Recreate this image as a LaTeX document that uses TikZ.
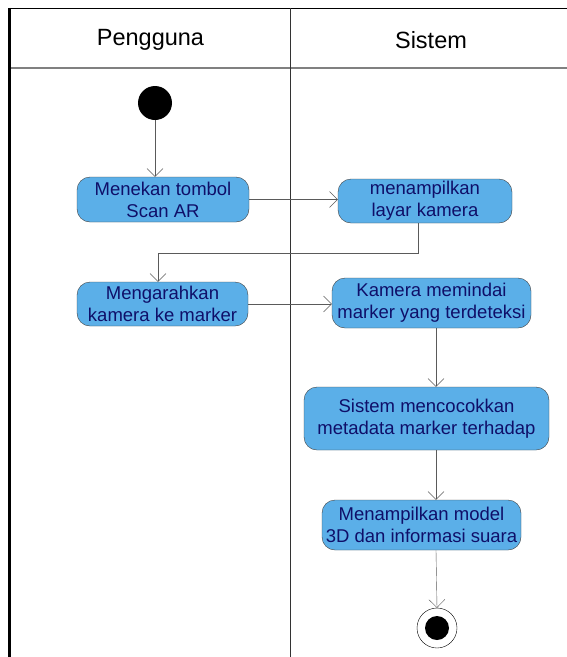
\documentclass[tikz,border=0pt]{standalone}
\usepackage{fontspec}
\setmainfont{Liberation Sans}
\usepackage{tikz}
\usetikzlibrary{arrows.meta, positioning, calc}
\definecolor{ActBlue}{RGB}{91,175,232}
\definecolor{ActText}{RGB}{15,15,105}
\definecolor{FlowGray}{RGB}{90,90,90}

\begin{document}
\begin{tikzpicture}[x=1pt,y=-1pt,
	act/.style={draw=black!75, fill=ActBlue, rounded corners=13pt, align=center,
		text=ActText, font=\fontsize{18.5}{22}\selectfont, inner sep=0pt},
	flow/.style={FlowGray, -{Straight Barb[length=8pt,width=16pt]}},
	lane/.style={font=\fontsize{23.5}{27}\selectfont}]
\useasboundingbox (0,0) rectangle (567,657);
% swimlanes
\draw[line width=1.5pt] (8,8.7) -- (567,8.7);
\draw[line width=3pt] (9.5,7.9) -- (9.5,657);
\draw[gray,line width=1.2pt] (11,68) -- (567,68);
\draw[black!80] (290,8) -- (290,657);
\node[lane] (pengguna) at (150.5,40) {Pengguna};
\node[lane] (sistem) at (431,40) {Sistem};

\node[circle, fill=black, minimum size=34pt, inner sep=0pt] (start) at (155,103) {};
\node[act, minimum width=172pt, minimum height=45pt] (tombol) at (163,199.5) {Menekan tombol\\Scan AR};
\node[act, minimum width=174pt, minimum height=44pt] (layar) at (425,201) {menampilkan\\layar kamera};
\node[act, minimum width=171pt, minimum height=44pt] (arah) at (162.5,304) {Mengarahkan\\kamera ke marker};
\node[act, minimum width=199pt, minimum height=50pt] (pindai) at (431.5,303) {Kamera memindai\\marker yang terdeteksi};
\node[act, minimum width=245pt, minimum height=63pt] (cocok) at (426.5,418.5) {Sistem mencocokkan\\metadata marker terhadap};
\node[act, minimum width=199pt, minimum height=50pt] (model) at (421.5,525) {Menampilkan model\\3D dan informasi suara};
\node[circle, draw=black, fill=white, minimum size=40pt, inner sep=0pt] (finish) at (437,628) {};
\fill (finish) circle (12);

\coordinate (col) at (436,0);
\draw[flow] (start.south) -- (start.south |- tombol.north);
\draw[flow] (tombol.east) -- (tombol.east -| layar.west);
\draw[flow] ([xshift=-7pt]layar.south) -- ++(0,30) -| ([xshift=-4.5pt]arah.north);
\draw[flow] (arah.east) -- (arah.east -| pindai.west);
\draw[flow] (pindai.south -| col) -- (cocok.north -| col);
\draw[flow] (cocok.south -| col) -- (model.north -| col);
\draw[flow] (model.south -| col) -- (finish.north);
\end{tikzpicture}
\end{document}
